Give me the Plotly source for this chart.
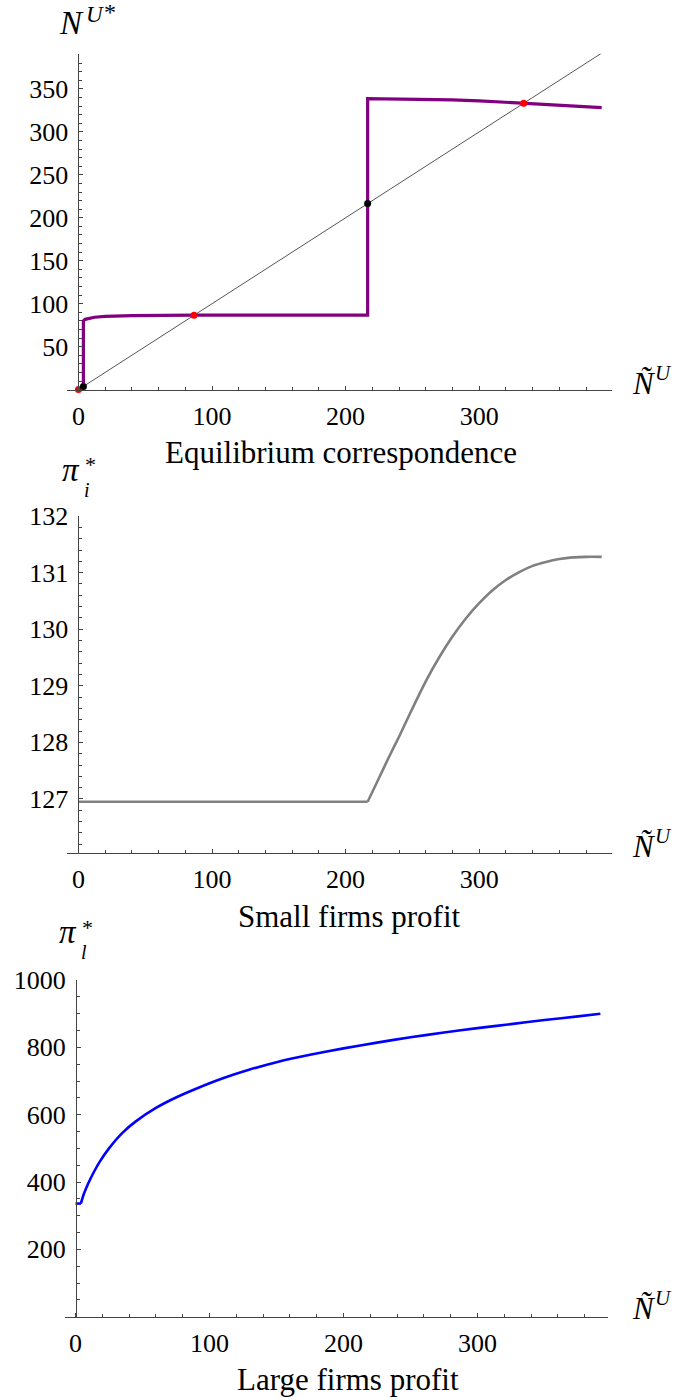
import plotly.graph_objects as go

# ---------------- data ----------------
# Panel 1: equilibrium correspondence
eq_x = [3.7, 3.7, 5, 8, 12, 20, 40, 86.5, 150, 216.5, 216.5, 240, 258, 280, 300, 333.3, 360, 391.7]
eq_y = [0, 80, 81.8, 83.2, 84.2, 85.2, 86.0, 86.6, 86.7, 86.7, 338.6, 338.4, 338.0, 337.2, 336.2, 333.3, 331.0, 328.2]
diag_x = [0, 391.7]
diag_y = [0, 391.7]
stable_x = [0, 86.5, 333.3]
stable_y = [0, 86.5, 333.3]
unstable_x = [3.7, 216.5]
unstable_y = [3.7, 216.5]

# Panel 2: small firms profit (flat branch, then rising branch)
small_flat_x = [0, 216.5]
small_flat_y = [126.95, 126.95]
small_rise_x = [216.5, 225, 232, 240, 250, 260, 270, 280, 290, 300, 310, 320, 330, 340, 350, 360, 370, 380, 391.7]
small_rise_y = [126.95, 127.37, 127.72, 128.1, 128.6, 129.08, 129.5, 129.87, 130.19, 130.46, 130.69,
                130.87, 131.01, 131.12, 131.19, 131.24, 131.27, 131.28, 131.28]

# Panel 3: large firms profit (flat branch, then rising branch)
large_flat_x = [0, 4]
large_flat_y = [336, 336]
large_rise_x = [4, 6, 8, 10, 14, 18, 25, 35, 45, 60, 75, 90, 110, 130, 150, 175, 200, 225, 250,
                275, 300, 325, 350, 375, 391.7]
large_rise_y = [336, 362, 382, 400, 432, 460, 500, 546, 580, 620, 651, 677, 708, 734, 756, 778, 797,
                814, 830, 844, 857, 869, 881, 892, 900]

x_ticks = [0, 100, 200, 300]
y1_ticks = [50, 100, 150, 200, 250, 300, 350]
y2_ticks = [127, 128, 129, 130, 131, 132]
y3_ticks = [200, 400, 600, 800, 1000]

captions = ["Equilibrium correspondence", "Small firms profit", "Large firms profit"]

# ---------------- layout helpers ----------------
W, H = 678, 1400
FONT = "Liberation Serif"
AX = "#444444"


def px(x):
    return x / W


def py(y):
    return 1 - y / H


fig = go.Figure()

fig.add_trace(go.Scatter(x=diag_x, y=diag_y, mode="lines", line=dict(color="#555555", width=1),
                         xaxis="x", yaxis="y", showlegend=False, hoverinfo="skip"))
fig.add_trace(go.Scatter(x=eq_x, y=eq_y, mode="lines", line=dict(color="#800080", width=3.2),
                         xaxis="x", yaxis="y", showlegend=False, cliponaxis=False))
fig.add_trace(go.Scatter(x=stable_x, y=stable_y, mode="markers", marker=dict(color="#ff0000", size=7),
                         xaxis="x", yaxis="y", showlegend=False, cliponaxis=False))
fig.add_trace(go.Scatter(x=unstable_x, y=unstable_y, mode="markers", marker=dict(color="#000000", size=7),
                         xaxis="x", yaxis="y", showlegend=False, cliponaxis=False))

grey = dict(color="#808080", width=2.6)
fig.add_trace(go.Scatter(x=small_flat_x, y=small_flat_y, mode="lines", line=grey,
                         xaxis="x2", yaxis="y2", showlegend=False))
fig.add_trace(go.Scatter(x=small_rise_x, y=small_rise_y, mode="lines",
                         line=dict(grey, shape="spline", smoothing=0.5),
                         xaxis="x2", yaxis="y2", showlegend=False))

blue = dict(color="#0000ff", width=2.6)
fig.add_trace(go.Scatter(x=large_flat_x, y=large_flat_y, mode="lines", line=blue,
                         xaxis="x3", yaxis="y3", showlegend=False, cliponaxis=False))
fig.add_trace(go.Scatter(x=large_rise_x, y=large_rise_y, mode="lines",
                         line=dict(blue, shape="spline", smoothing=0.5),
                         xaxis="x3", yaxis="y3", showlegend=False))

tickfont = dict(family=FONT, size=26, color="black")


def xaxis_cfg(dom, rng, anchor):
    return dict(domain=dom, range=rng, anchor=anchor, showline=True, linecolor=AX, linewidth=1,
                ticks="inside", ticklen=4, tickcolor=AX, tickvals=x_ticks, tickfont=tickfont,
                minor=dict(dtick=20, tick0=0, ticks="inside", ticklen=2.5, tickcolor=AX),
                showgrid=False, zeroline=False, automargin=False, ticklabelstandoff=3)


def yaxis_cfg(dom, rng, pos, vals, mdt):
    return dict(domain=dom, range=rng, anchor="free", position=pos, showline=True, linecolor=AX,
                linewidth=1, ticks="inside", ticklen=4, tickcolor=AX, tickvals=vals, tickfont=tickfont,
                minor=dict(dtick=mdt, tick0=0, ticks="inside", ticklen=2.5, tickcolor=AX),
                showgrid=False, zeroline=False, automargin=False, ticklabelstandoff=5)


xd12 = [px(66.7), px(611.7)]
fig.update_layout(
    xaxis=xaxis_cfg(xd12, [-8.8, 399.2], "y"),
    yaxis=yaxis_cfg([py(389.6), py(53.7)], [0, 391], px(78.4), y1_ticks, 10),
    xaxis2=xaxis_cfg(xd12, [-8.8, 399.2], "y2"),
    yaxis2=yaxis_cfg([py(852.7), py(516.1)], [126.05, 132.0], px(78.4), y2_ticks, 0.2),
    xaxis3=xaxis_cfg([px(65), px(608.3)], [-7.84, 397.6], "y3"),
    yaxis3=yaxis_cfg([py(1316.7), py(980)], [0, 1000], px(76), y3_ticks, 50),
)

ann = []


def A(text, x, y, size, xa="left", ya="middle"):
    ann.append(dict(text=text, x=px(x), y=py(y), xref="paper", yref="paper", showarrow=False,
                    xanchor=xa, yanchor=ya, font=dict(family=FONT, size=size, color="black")))


# captions
A(captions[0], 341, 452, 31, "center")
A(captions[1], 349, 916, 31, "center")
A(captions[2], 348, 1379, 31, "center")

# y labels
A("<i>N</i>", 57, 23, 33)
A("<i>U</i>", 84, 14, 23)
A("*", 102, 12, 24)
A("<i>π</i>", 60, 470, 33)
A("*", 83, 465, 22)
A("<i>i</i>", 82, 490, 20)
A("<i>π</i>", 57, 932, 33)
A("*", 80, 928, 22)
A("<i>l</i>", 79, 952, 20)

# x labels
for yy in (378, 841, 1303):
    A("<i>Ñ</i>", 630, yy + 5, 31)
    A("<i>U</i>", 653, yy - 5, 21)

fig.update_layout(annotations=ann, width=W, height=H, margin=dict(l=0, r=0, t=0, b=0),
                  paper_bgcolor="white", plot_bgcolor="white", showlegend=False)

fig.write_html("out.html")
